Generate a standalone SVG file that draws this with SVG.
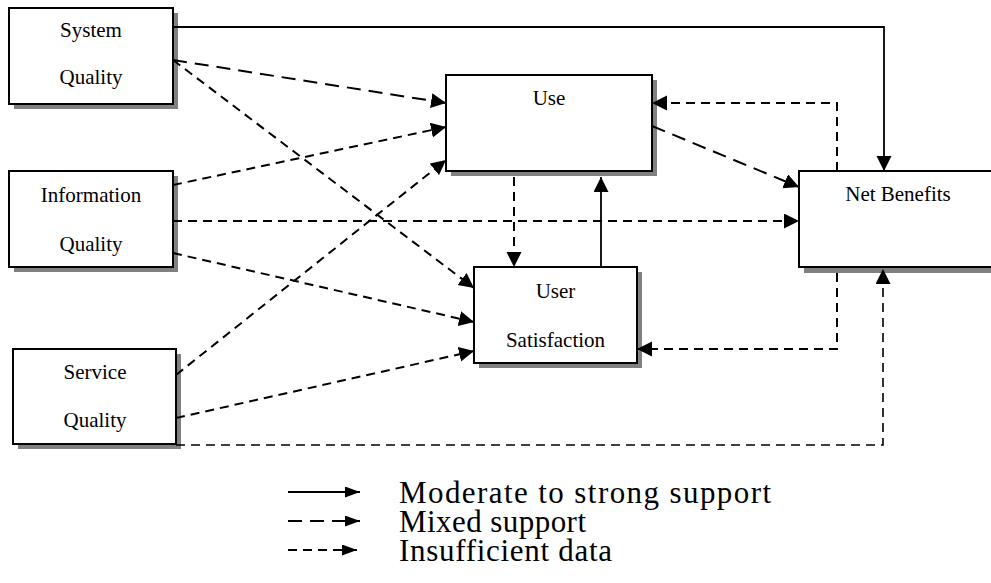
<svg xmlns="http://www.w3.org/2000/svg" width="991" height="583" viewBox="0 0 991 583">
<style>
.shadow{fill:#808080;stroke:none}
.box{fill:#fff;stroke:#000;stroke-width:2}
.lbl{font-family:"Liberation Serif","Times New Roman",serif;font-size:21px;fill:#000;text-anchor:middle}
.leg{font-family:"Liberation Serif","Times New Roman",serif;font-size:31px;fill:#000}
.c{fill:none;stroke:#000;stroke-width:2}
.solid{stroke-width:1.8}
.long{stroke-dasharray:14 8}
.short{stroke-dasharray:9 6}
</style>
<defs>
<marker id="ah" markerUnits="userSpaceOnUse" markerWidth="16" markerHeight="16" refX="15" refY="7.5" orient="auto">
<path d="M0,0 L15,7.5 L0,15 Z" fill="#000"/>
</marker>
<marker id="ahs" markerUnits="userSpaceOnUse" markerWidth="16" markerHeight="12" refX="15" refY="5.5" orient="auto">
<path d="M0,0 L15,5.5 L0,11 Z" fill="#000"/>
</marker>
</defs>
<rect width="991" height="583" fill="#fff"/>
<g id="system-quality">
<rect class="shadow" x="14" y="13" width="164" height="96"/>
<rect class="box" x="9" y="8" width="164" height="96"/>
<text class="lbl" x="91" y="37">System</text>
<text class="lbl" x="91" y="84">Quality</text>
</g>
<g id="information-quality">
<rect class="shadow" x="14" y="176" width="164" height="96"/>
<rect class="box" x="9" y="171" width="164" height="96"/>
<text class="lbl" x="91" y="202">Information</text>
<text class="lbl" x="91" y="251">Quality</text>
</g>
<g id="service-quality">
<rect class="shadow" x="18" y="354" width="163" height="95"/>
<rect class="box" x="13" y="349" width="163" height="95"/>
<text class="lbl" x="95" y="379">Service</text>
<text class="lbl" x="95" y="427">Quality</text>
</g>
<g id="use">
<rect class="shadow" x="451" y="80" width="206" height="96"/>
<rect class="box" x="446" y="75" width="206" height="96"/>
<text class="lbl" x="549" y="105">Use</text>
</g>
<g id="user-satisfaction">
<rect class="shadow" x="479" y="272" width="163" height="96"/>
<rect class="box" x="474" y="267" width="163" height="96"/>
<text class="lbl" x="555.5" y="298">User</text>
<text class="lbl" x="555.5" y="347">Satisfaction</text>
</g>
<g id="net-benefits">
<rect class="shadow" x="804" y="176" width="200" height="97"/>
<rect class="box" x="799" y="171" width="200" height="96"/>
<text class="lbl" x="898" y="201">Net Benefits</text>
</g>
<g id="connectors">
<path class="c solid" d="M173,27 H884 V171" marker-end="url(#ah)"/>
<path class="c long" d="M173,60 L446,103" marker-end="url(#ah)"/>
<path class="c short" d="M173,60 L474,288" marker-end="url(#ah)"/>
<path class="c short" d="M173,185 L446,127" marker-end="url(#ah)"/>
<path class="c short" d="M173,221 H799" marker-end="url(#ah)"/>
<path class="c short" d="M173,253 L474,322" marker-end="url(#ah)"/>
<path class="c short" d="M176,375 L446,160" marker-end="url(#ah)"/>
<path class="c short" d="M176,418 L474,351" marker-end="url(#ah)"/>
<path class="c short" style="stroke-width:1.6" d="M176,445 H883 V269" marker-end="url(#ah)"/>
<path class="c short" d="M514,177 V267" marker-end="url(#ah)"/>
<path class="c solid" d="M601,267 V177" marker-end="url(#ah)"/>
<path class="c long" d="M652,126 L799,187" marker-end="url(#ah)"/>
<path class="c short" d="M837,171 V103 H652" marker-end="url(#ah)"/>
<path class="c short" d="M837,273 V349 H637" marker-end="url(#ah)"/>
</g>
<g id="legend">
<path class="c solid" d="M288,492 H360" marker-end="url(#ahs)"/>
<path class="c long" d="M288,521 H360" marker-end="url(#ahs)"/>
<path class="c short" d="M288,550 H357" marker-end="url(#ahs)"/>
<text class="leg" x="399" y="503" textLength="372">Moderate to strong support</text>
<text class="leg" x="399" y="532" textLength="187">Mixed support</text>
<text class="leg" x="399" y="561" textLength="213">Insufficient data</text>
</g>
</svg>
